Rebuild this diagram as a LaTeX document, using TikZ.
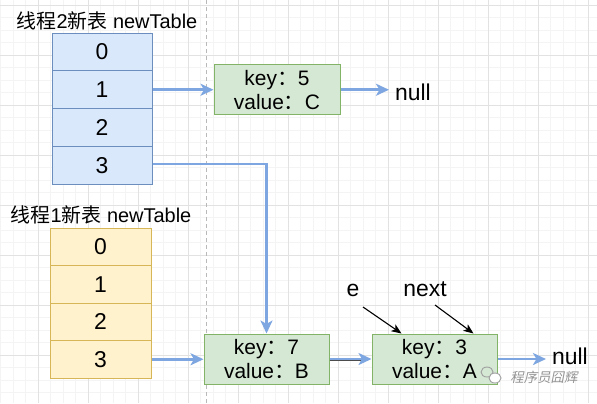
\documentclass[tikz,border=0pt]{standalone}
\usepackage{fontspec}
\setmainfont{Liberation Sans}
\newfontfamily\cjk{Noto Sans CJK SC}
\newfontfamily\cjkwm[FakeSlant=0.2]{Noto Sans CJK SC}
\usetikzlibrary{arrows.meta}
\definecolor{bluefill}{HTML}{DAE8FC}
\definecolor{bluedraw}{HTML}{6C8EBF}
\definecolor{yelfill}{HTML}{FFF2CC}
\definecolor{yeldraw}{HTML}{D6B656}
\definecolor{grnfill}{HTML}{D5E8D4}
\definecolor{grndraw}{HTML}{82B366}
\definecolor{arrowblue}{HTML}{7EA6E0}
\definecolor{gridminor}{HTML}{F4F4F4}
\definecolor{gridmajor}{HTML}{E2E2E2}
\tikzset{
  minorline/.style={gridminor, line width=0.8bp},
  majorline/.style={gridmajor, line width=0.9bp},
  bluecell/.style={draw=bluedraw, fill=bluefill, line width=1bp, minimum width=100bp, minimum height=37.75bp, inner sep=0pt, font=\fontsize{23}{26}\selectfont},
  yelcell/.style={draw=yeldraw, fill=yelfill, line width=1bp, minimum width=101bp, minimum height=37.5bp, inner sep=0pt, font=\fontsize{23}{26}\selectfont},
  entry/.style={draw=grndraw, fill=grnfill, line width=1bp, minimum width=126bp, minimum height=50bp, inner sep=0pt, align=center, font=\fontsize{21}{24}\selectfont},
  title/.style={inner sep=0pt, font=\fontsize{20}{22}\selectfont},
  lbl/.style={inner sep=0pt, font=\fontsize{23}{26}\selectfont},
  link/.style={arrowblue, line width=2.6bp, -{Stealth[length=13bp, width=12bp, inset=3.5bp]}},
  ptr/.style={black, line width=1.1bp, -{Stealth[length=10bp, width=8bp, inset=2.5bp]}},
}
\begin{document}
\begin{tikzpicture}[x=1bp, y=-1bp]
\useasboundingbox (0,0) rectangle (597,403);
\fill[white] (0,0) rectangle (597,403);
% grid
\foreach \i in {0,...,47} {\draw[minorline] ({0.5+12.5*\i},0) -- ++(0,403);}
\foreach \i in {0,...,31} {\draw[minorline] (0,{5+12.5*\i}) -- ++(597,0);}
\foreach \i in {0,...,11} {\draw[majorline] ({38+50*\i},0) -- ++(0,403);}
\foreach \i in {0,...,7} {\draw[majorline] (0,{5+50*\i}) -- ++(597,0);}
% dashed separator
\draw[gray!55, line width=1bp, dash pattern=on 4bp off 3bp] (206,0) -- (206,403);

% thread 2 table
\node[title] (t2) at (107,21) {{\cjk 线程}2{\cjk 新表} newTable};
\foreach \r in {0,1,2,3} {
  \node[bluecell] (b\r) at (102,{52+37.75*\r}) {\r};
}
% thread 1 table
\node[title] (t1) at (101,215) {{\cjk 线程}1{\cjk 新表} newTable};
\foreach \r in {0,1,2,3} {
  \node[yelcell] (y\r) at (100.5,{246.75+37.5*\r}) {\r};
}

% entries
\node[entry] (k5) at (277,89.75) {key{\cjk ：}5\\value{\cjk ：}C};
\node[entry, minimum width=125bp] (k7) at (266.5,359) {key{\cjk ：}7\\value{\cjk ：}B};
\node[entry, minimum width=125bp] (k3) at (434.5,359) {key{\cjk ：}3\\value{\cjk ：}A};

\node[lbl] (n1) at (413,92) {null};
\node[lbl] (n2) at (570,356) {null};
\node[lbl] (le) at (353,290) {e};
\node[lbl] (lnext) at (425,289) {next};

% blue links
\draw[link] (b1.east) -- (b1.east -| k5.west);
\draw[link] (k5.east) -- ([xshift=-6bp]n1.west |- k5.east);
\draw[link] (b3.east |- 0,164) -| (k7.north);
\draw[link] (y3.east) -- (y3.east -| k7.west);
\draw[black!70, line width=1.2bp] ([yshift=-1.4bp]k7.east) -- ([xshift=-6bp,yshift=-1.4bp]k3.west);
\draw[link] (k7.east) -- (k3.west);
\draw[link] (k3.east) -- ([xshift=-6bp]n2.west |- k3.east);

% pointers
\draw[ptr] ([shift={(10,17)}]le.center) -- ([xshift=30bp]k3.north west);
\draw[ptr] ([shift={(10,16)}]lnext.center) -- ([xshift=102bp]k3.north west);

% watermark
\node[inner sep=0pt, text=gray!85, font=\fontsize{13.5}{15}\selectfont\cjkwm] (wm) at (544,377) {程序员囧辉};
\draw[gray!75, line width=0.9bp] (487,372) ellipse (6bp and 5bp);
\draw[gray!75, line width=0.9bp, fill=white] (495,378) ellipse (6bp and 5bp);
\end{tikzpicture}
\end{document}
